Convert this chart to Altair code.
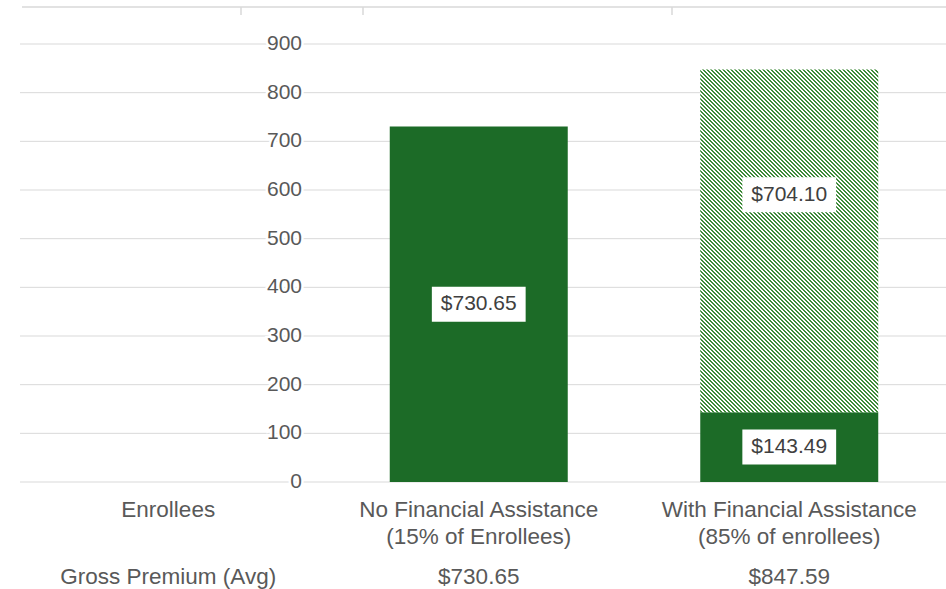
import math
import altair as alt
import pandas as pd

# ---------------- data ----------------
categories = [
    "Enrollees",
    "No Financial Assistance\n(15% of Enrollees)",
    "With Financial Assistance\n(85% of enrollees)",
]
gross_row = ["Gross Premium (Avg)", "$730.65", "$847.59"]

bar_category = [categories[1], categories[2], categories[2]]
bar_kind = ["solid", "solid", "hatched"]
bar_value = [730.65, 143.49, 704.10]
label_pos = [365.0, 72.0, 590.0]  # where each value label sits

y_ticks = [0, 100, 200, 300, 400, 500, 600, 700, 800, 900]

# ---------------- tables ----------------
starts, ends, running = [], [], {}
for c, v in zip(bar_category, bar_value):
    s = running.get(c, 0.0)
    starts.append(s)
    ends.append(s + v)
    running[c] = s + v
bars = pd.DataFrame({"category": bar_category, "kind": bar_kind,
                     "start": starts, "end": ends, "value": bar_value,
                     "pos": label_pos})
cats = pd.DataFrame({"category": categories, "gross": gross_row})
ticks = pd.DataFrame({"tick": y_ticks})

# ---------------- styling ----------------
PLOT_W, PLOT_H = 926, 438
GREEN = "#1c6b27"
HATCH = "#3f8b3a"
TEXT = "#595959"
GRID = "#d9d9d9"
FONT = "Liberation Sans"
BAR_W = 178

# hatch pattern as a hard-stop linear gradient (45deg "\" stripes)
w = BAR_W
h = bar_value[2] * PLOT_H / 900
t = (w + h) / (w * w + h * h)
L = (w + h) / math.sqrt(2)
period = (4.0 / math.sqrt(2)) / L
stops = []
k = 0.0
while k < 1.0:
    a, b, c2 = k, min(k + period / 2, 1.0), min(k + period, 1.0)
    stops += [{"offset": a, "color": HATCH}, {"offset": b, "color": HATCH},
              {"offset": b, "color": "white"}, {"offset": c2, "color": "white"}]
    k += period
hatch_fill = {"gradient": "linear", "x1": 0, "y1": 1, "x2": t * w, "y2": 1 - t * h,
              "stops": stops}

xs = alt.X("category:N", sort=categories, axis=None,
           scale=alt.Scale(domain=categories, range=[-7, 924.5],
                           paddingInner=0, paddingOuter=0))
ys = alt.Scale(domain=[0, 900], nice=False, zero=True)

grid = alt.Chart(ticks).mark_rule(color=GRID, strokeWidth=1).encode(
    y=alt.Y("tick:Q", scale=ys, axis=None),
    x=alt.value(0), x2=alt.value(PLOT_W))

solid = alt.Chart(bars).transform_filter(alt.datum.kind == "solid").mark_bar(
    color=GREEN, width=BAR_W).encode(
    x=xs, y=alt.Y("start:Q", scale=ys, axis=None), y2="end:Q")

hatched = alt.Chart(bars).transform_filter(alt.datum.kind == "hatched").mark_bar(
    fill=hatch_fill, width=BAR_W).encode(
    x=xs, y=alt.Y("start:Q", scale=ys, axis=None), y2="end:Q")

ylab_halo = alt.Chart(ticks).mark_text(
    align="right", baseline="middle", font=FONT, fontSize=21,
    fill="white", stroke="white", strokeWidth=5).encode(
    y=alt.Y("tick:Q", scale=ys, axis=None), x=alt.value(282), text="tick:Q")
ylab = alt.Chart(ticks).mark_text(
    align="right", baseline="middle", font=FONT, fontSize=21, color=TEXT).encode(
    y=alt.Y("tick:Q", scale=ys, axis=None), x=alt.value(282), text="tick:Q")

box = alt.Chart(bars).mark_point(
    shape="M-1.34,-0.5L1.34,-0.5L1.34,0.5L-1.34,0.5Z", size=4900,
    filled=True, fill="white", opacity=1, strokeWidth=0).encode(
    x=xs, y=alt.Y("pos:Q", scale=ys, axis=None))
vlab = alt.Chart(bars).mark_text(
    font=FONT, fontSize=21, color="#404040", baseline="middle").encode(
    x=xs, y=alt.Y("pos:Q", scale=ys, axis=None),
    text=alt.Text("value:Q", format="$.2f"))

catlab = alt.Chart(cats).mark_text(
    font=FONT, fontSize=22.5, color=TEXT, baseline="alphabetic",
    lineBreak="\n", lineHeight=27).encode(
    x=xs, y=alt.value(473), text="category:N")
grosslab = alt.Chart(cats).mark_text(
    font=FONT, fontSize=22.5, color=TEXT, baseline="alphabetic").encode(
    x=xs, y=alt.value(540), text="gross:N")

# cropped table border at the very top
top_line = alt.Chart(ticks.head(1)).mark_rule(color=GRID, strokeWidth=1.5).encode(
    x=alt.value(2), x2=alt.value(PLOT_W), y=alt.value(-37))
top_ticks = alt.Chart(pd.DataFrame({"px": [221, 343, 652]})).mark_rule(
    color=GRID, strokeWidth=1.5).encode(
    x=alt.X("px:Q", scale=alt.Scale(domain=[0, PLOT_W], range=[0, PLOT_W]), axis=None),
    y=alt.value(-37), y2=alt.value(-29))

chart = alt.layer(grid, solid, hatched, ylab_halo, ylab, box, vlab,
                  catlab, grosslab, top_line, top_ticks).resolve_scale(
    x="independent").properties(
    width=PLOT_W, height=PLOT_H,
    padding={"left": 20, "top": 44, "right": 0, "bottom": 107},
    autosize=alt.AutoSizeParams(type="none"),
    background="white",
).configure_view(stroke=None)

chart.save("out.html", embed_options={"renderer": "svg", "actions": False})
